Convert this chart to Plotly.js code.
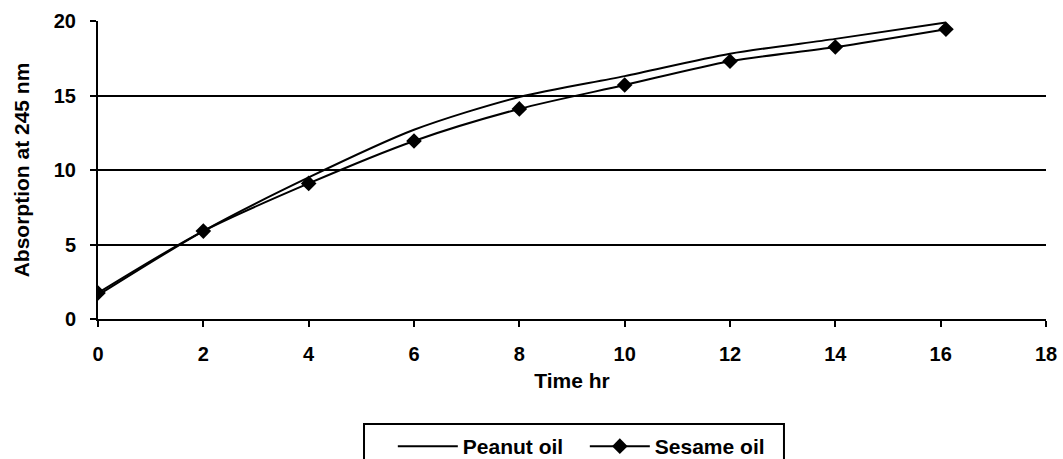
<!DOCTYPE html>
<html>
<head>
<meta charset="utf-8">
<script src="https://cdn.plot.ly/plotly-3.0.1.min.js"></script>
<style>html,body{margin:0;padding:0;background:#fff;}#chart{width:1063px;height:459px;}</style>
</head>
<body>
<div id="chart"></div>
<script>
const timeHr = [0, 2, 4, 6, 8, 10, 12, 14, 16.1];
const peanutOil = [1.6, 5.9, 9.5, 12.7, 14.9, 16.3, 17.8, 18.8, 19.9];
const sesameOil = [1.75, 5.9, 9.1, 11.95, 14.1, 15.7, 17.3, 18.25, 19.45];
const xTicks = [0, 2, 4, 6, 8, 10, 12, 14, 16, 18];
const yTicks = [0, 5, 10, 15, 20];

const FAMILY = '"Liberation Sans", Arial, sans-serif';
const FONT = {family: FAMILY, size: 21, color: '#000', weight: 'bold'};
const TICKFONT = {family: FAMILY, size: 20, color: '#000', weight: 'bold'};

const traces = [
  {x: timeHr, y: peanutOil, name: 'Peanut oil', type: 'scatter', mode: 'lines',
   line: {color: '#000', width: 2, shape: 'spline', smoothing: 0.8}},
  {x: timeHr, y: sesameOil, name: 'Sesame oil', type: 'scatter', mode: 'lines+markers',
   line: {color: '#000', width: 2, shape: 'spline', smoothing: 0.8},
   marker: {symbol: 'diamond', size: 12, color: '#000'}}
];

const layout = {
  width: 1063, height: 459,
  margin: {l: 98, r: 17, t: 21, b: 140, autoexpand: false},
  paper_bgcolor: '#fff', plot_bgcolor: '#fff',
  font: FONT,
  showlegend: true,
  xaxis: {
    range: [0, 18], tickvals: xTicks, ticktext: xTicks.map(String),
    showgrid: false, zeroline: false,
    showline: true, linecolor: '#000', linewidth: 2,
    ticks: 'outside', ticklen: 6, tickwidth: 2, tickcolor: '#000',
    ticklabelstandoff: 10,
    tickfont: TICKFONT,
    title: {text: 'Time hr', font: FONT, standoff: 9}
  },
  yaxis: {
    range: [0, 20], tickvals: yTicks, ticktext: yTicks.map(String),
    showgrid: true, gridcolor: '#000', gridwidth: 2,
    zeroline: false,
    showline: true, linecolor: '#000', linewidth: 2,
    ticks: 'outside', ticklen: 6, tickwidth: 2, tickcolor: '#000',
    ticklabelstandoff: 10,
    tickfont: TICKFONT,
    title: {text: 'Absorption at 245 nm', font: FONT, standoff: 18}
  },
  legend: {
    orientation: 'h', x: 0.311, xanchor: 'left', y: -0.359, yanchor: 'top',
    borderwidth: 0, bgcolor: 'rgba(0,0,0,0)',
    font: FONT, itemwidth: 60, entrywidth: 117, traceorder: 'normal'
  },
  shapes: [
    {type: 'rect', xref: 'paper', yref: 'paper', x0: 0.2806, x1: 0.7236, y0: -0.3523, y1: -0.6,
     line: {color: '#000', width: 2}, fillcolor: 'rgba(0,0,0,0)'}
  ]
};

Plotly.newPlot('chart', traces, layout, {displayModeBar: false, staticPlot: true});
</script>
</body>
</html>
